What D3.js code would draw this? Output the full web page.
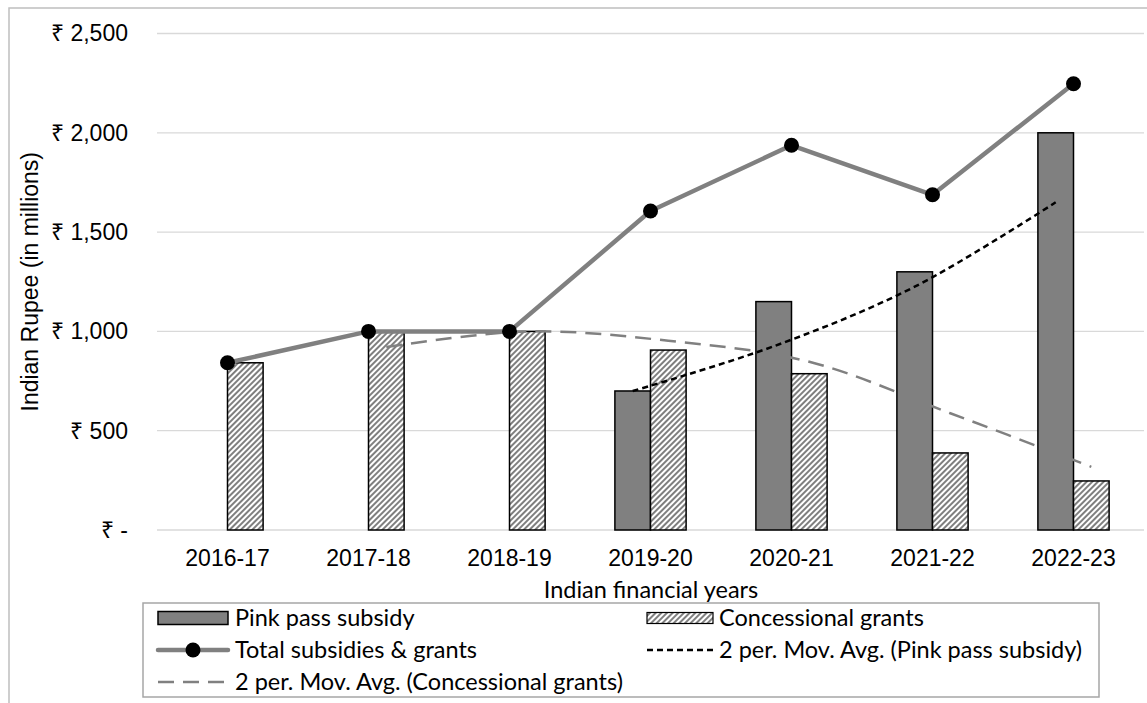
<!DOCTYPE html>
<html>
<head>
<meta charset="utf-8">
<script src="https://cdn.jsdelivr.net/npm/d3@7"></script>
<style>
  html, body { margin: 0; padding: 0; background: #fff; }
  svg { display: block; }
  .tick-label { font-family: "Liberation Sans", Arial, sans-serif; font-size: 23px; fill: #000; }
  .ui-label { font-family: Lato, "Noto Sans", sans-serif; font-size: 23.5px; fill: #000; }
</style>
</head>
<body>
<script>
// Financial years on the category axis
const years = ["2016-17", "2017-18", "2018-19", "2019-20", "2020-21", "2021-22", "2022-23"];

// Values in ₹ millions
const pinkPassSubsidy   = [0, 0, 0, 700, 1150, 1300, 2000];
const concessionalGrants = [842, 1000, 1000, 906, 787, 388, 247];
const totalSubsidies    = [842, 1000, 1000, 1606, 1937, 1688, 2247];

// Two-period moving averages (null where no average is shown)
const pinkMovAvg = [null, null, null, 700, 925, 1225, 1650];
const concMovAvg = [null, 921, 1000, 953, 847, 588, 318];

// Y axis ticks and their labels
const yTicks = [0, 500, 1000, 1500, 2000, 2500];
const yTickLabels = ["₹ -", "₹ 500", "₹ 1,000", "₹ 1,500", "₹ 2,000", "₹ 2,500"];

const W = 1147, H = 703;
const plot = { left: 157, right: 1144, top: 33.5, bottom: 530 };

const svg = d3.select("body").append("svg").attr("width", W).attr("height", H);

// Diagonal hatch used for concessional grants
const defs = svg.append("defs");
const hatch = defs.append("pattern")
  .attr("id", "hatch")
  .attr("patternUnits", "userSpaceOnUse")
  .attr("width", 4).attr("height", 8)
  .attr("patternTransform", "rotate(45)");
hatch.append("rect").attr("width", 4).attr("height", 8).attr("fill", "#fff");
hatch.append("rect").attr("width", 2).attr("height", 8).attr("fill", "#7f7f7f");

// Chart frame
svg.append("rect")
  .attr("x", 9).attr("y", 8).attr("width", 1300).attr("height", 900)
  .attr("fill", "#fff").attr("stroke", "#bfbfbf").attr("stroke-width", 1.5);

const x = d3.scaleBand().domain(years).range([plot.left, plot.right]).padding(0);
const series = ["pink", "conc"];
const xs = d3.scaleBand().domain(series).range([0, x.bandwidth()]).paddingInner(0).paddingOuter(0.98);
const y = d3.scaleLinear().domain([0, 2500]).range([plot.bottom, plot.top]);

// Gridlines
svg.append("g").selectAll("line").data(yTicks).join("line")
  .attr("x1", plot.left).attr("x2", plot.right)
  .attr("y1", d => y(d)).attr("y2", d => y(d))
  .attr("stroke", "#d9d9d9").attr("stroke-width", 1.3);

// Y axis labels
const yAxis = d3.axisLeft(y).tickValues(yTicks)
  .tickFormat((d, i) => yTickLabels[i]).tickSize(0).tickPadding(0);
const yg = svg.append("g").attr("transform", `translate(128,0)`).call(yAxis);
yg.select(".domain").remove();
yg.selectAll("text").attr("class", "tick-label").attr("font-size", null).attr("font-family", null);

// X axis labels
const xAxis = d3.axisBottom(x).tickSize(0).tickPadding(0);
const xg = svg.append("g").attr("transform", `translate(0,${plot.bottom + 20})`).call(xAxis);
xg.select(".domain").remove();
xg.selectAll("text").attr("class", "tick-label").attr("font-size", null).attr("font-family", null);

// Axis titles
svg.append("text").attr("class", "tick-label")
  .attr("transform", `translate(38,${(plot.top + plot.bottom) / 2}) rotate(-90)`)
  .attr("text-anchor", "middle")
  .text("Indian Rupee (in millions)");
svg.append("text").attr("class", "ui-label")
  .attr("x", 651).attr("y", 598).attr("text-anchor", "middle")
  .text("Indian financial years");

// Bars
const bars = svg.append("g");
bars.selectAll(".pink").data(years.map((c, i) => ({ c, v: pinkPassSubsidy[i] })).filter(d => d.v > 0))
  .join("rect").attr("class", "pink")
  .attr("x", d => x(d.c) + xs("pink")).attr("width", xs.bandwidth())
  .attr("y", d => y(d.v)).attr("height", d => y(0) - y(d.v))
  .attr("fill", "#808080").attr("stroke", "#000").attr("stroke-width", 1.5);
bars.selectAll(".conc").data(years.map((c, i) => ({ c, v: concessionalGrants[i] })))
  .join("rect").attr("class", "conc")
  .attr("x", d => x(d.c) + xs("conc")).attr("width", xs.bandwidth())
  .attr("y", d => y(d.v)).attr("height", d => y(0) - y(d.v))
  .attr("fill", "url(#hatch)").attr("stroke", "#000").attr("stroke-width", 1.5);

// Moving averages, drawn at the centre of their bars
const maLine = key => d3.line()
  .defined(d => d.v != null)
  .x(d => x(d.c) + xs(key) + xs.bandwidth() / 2)
  .y(d => y(d.v))
  .curve(d3.curveCatmullRom.alpha(0.5));

svg.append("path")
  .datum(years.map((c, i) => ({ c, v: concMovAvg[i] })).filter(d => d.v != null))
  .attr("d", maLine("conc"))
  .attr("fill", "none").attr("stroke", "#808080").attr("stroke-width", 2.5)
  .attr("stroke-dasharray", "16,9");

svg.append("path")
  .datum(years.map((c, i) => ({ c, v: pinkMovAvg[i] })).filter(d => d.v != null))
  .attr("d", maLine("pink"))
  .attr("fill", "none").attr("stroke", "#000").attr("stroke-width", 2.5)
  .attr("stroke-dasharray", "6,4");

// Total line with markers
const totalData = years.map((c, i) => ({ c, v: totalSubsidies[i] }));
svg.append("path").datum(totalData)
  .attr("d", d3.line().x(d => x(d.c) + x.bandwidth() / 2).y(d => y(d.v)))
  .attr("fill", "none").attr("stroke", "#808080").attr("stroke-width", 4.5)
  .attr("stroke-linejoin", "round");
svg.append("g").selectAll("circle").data(totalData).join("circle")
  .attr("cx", d => x(d.c) + x.bandwidth() / 2).attr("cy", d => y(d.v))
  .attr("r", 7.5).attr("fill", "#000");

// Legend
const lg = svg.append("g");
lg.append("rect").attr("x", 143).attr("y", 603).attr("width", 956).attr("height", 94)
  .attr("fill", "#fff").attr("stroke", "#a6a6a6").attr("stroke-width", 1.5);

const rows = [618, 650, 682];
const col1 = { s0: 158, s1: 228, t: 235 };
const col2 = { s0: 647, s1: 713, t: 719 };

lg.append("rect").attr("x", col1.s0).attr("y", rows[0] - 6.5).attr("width", col1.s1 - col1.s0).attr("height", 13)
  .attr("fill", "#808080").attr("stroke", "#000").attr("stroke-width", 1.5);
lg.append("text").attr("class", "ui-label").attr("x", col1.t).attr("y", rows[0]).attr("dy", "0.35em").text("Pink pass subsidy");

lg.append("rect").attr("x", col2.s0).attr("y", rows[0] - 5.5).attr("width", col2.s1 - col2.s0).attr("height", 11)
  .attr("fill", "url(#hatch)").attr("stroke", "#000").attr("stroke-width", 1.2);
lg.append("text").attr("class", "ui-label").attr("x", col2.t).attr("y", rows[0]).attr("dy", "0.35em").text("Concessional grants");

lg.append("line").attr("x1", col1.s0).attr("x2", col1.s1).attr("y1", rows[1]).attr("y2", rows[1])
  .attr("stroke", "#808080").attr("stroke-width", 4.5).attr("stroke-linecap", "round");
lg.append("circle").attr("cx", (col1.s0 + col1.s1) / 2).attr("cy", rows[1]).attr("r", 7.5).attr("fill", "#000");
lg.append("text").attr("class", "ui-label").attr("x", col1.t).attr("y", rows[1]).attr("dy", "0.35em").text("Total subsidies & grants");

lg.append("line").attr("x1", col2.s0).attr("x2", col2.s1).attr("y1", rows[1]).attr("y2", rows[1])
  .attr("stroke", "#000").attr("stroke-width", 2.5).attr("stroke-dasharray", "6,4");
lg.append("text").attr("class", "ui-label").attr("x", col2.t).attr("y", rows[1]).attr("dy", "0.35em").text("2 per. Mov. Avg. (Pink pass subsidy)");

lg.append("line").attr("x1", col1.s0).attr("x2", col1.s1).attr("y1", rows[2]).attr("y2", rows[2])
  .attr("stroke", "#808080").attr("stroke-width", 2.5).attr("stroke-dasharray", "16,9");
lg.append("text").attr("class", "ui-label").attr("x", col1.t).attr("y", rows[2]).attr("dy", "0.35em").text("2 per. Mov. Avg. (Concessional grants)");
</script>
</body>
</html>
